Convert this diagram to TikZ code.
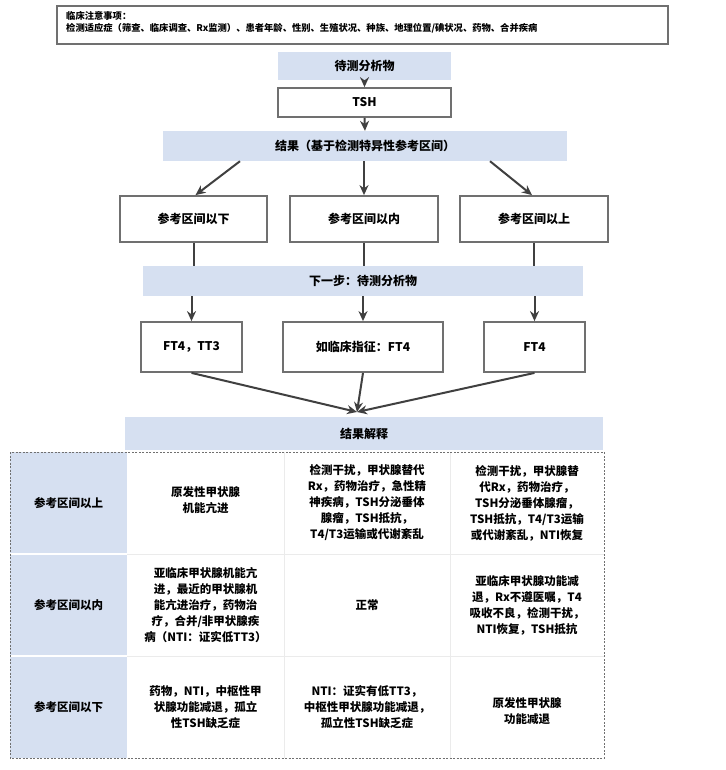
\documentclass[tikz,border=0pt]{standalone}
\usepackage{fontspec}
\setmainfont{Noto Sans CJK SC}
\usetikzlibrary{arrows.meta}
\definecolor{lb}{HTML}{D6E0F1}
\definecolor{bd}{HTML}{707070}
\definecolor{ar}{HTML}{404040}
\begin{document}
\begin{tikzpicture}[x=1pt,y=-1pt,
 bluebox/.style={fill=lb,draw=none,inner sep=0pt,font=\fontsize{12}{14}\selectfont\bfseries},
 grbox/.style={draw=bd,line width=1.8pt,fill=white,inner sep=0pt,font=\fontsize{12}{14}\selectfont\bfseries},
 arr/.style={draw=ar,line width=2pt,-{Stealth[length=10pt,width=9pt]}},
 ln/.style={draw=ar,line width=2pt},
 cell/.style={align=center,font=\fontsize{11.5}{16}\selectfont\bfseries,inner sep=0pt}]
\useasboundingbox (0,0) rectangle (725,770);
\fill[white] (0,0) rectangle (725,770);
% top note
\node[draw=bd,line width=1.8pt,minimum width=611pt,minimum height=38pt,inner sep=0pt] (note) at (362.5,25) {};
\node[anchor=north west,align=left,font=\fontsize{9.3}{12}\selectfont\bfseries,inner sep=0pt] (notet) at (66,11) {临床注意事项：\\检测适应症（筛查、临床调查、Rx监测）、患者年龄、性别、生殖状况、种族、地理位置/碘状况、药物、合并疾病};
% flow
\node[bluebox,minimum width=173pt,minimum height=28pt] (ana) at (364.5,66) {待测分析物};
\node[grbox,minimum width=173pt,minimum height=29pt] (tsh) at (364.5,102.5) {TSH};
\node[bluebox,minimum width=404pt,minimum height=30pt] (res) at (365,146) {结果（基于检测特异性参考区间）};
\node[grbox,minimum width=147pt,minimum height=46pt] (b1) at (193.5,219) {参考区间以下};
\node[grbox,minimum width=148pt,minimum height=46pt] (b2) at (364,219) {参考区间以内};
\node[grbox,minimum width=148pt,minimum height=46pt] (b3) at (534,219) {参考区间以上};
\node[bluebox,minimum width=440pt,minimum height=30pt] (nxt) at (363,281) {下一步：待测分析物};
\node[grbox,minimum width=101pt,minimum height=50pt] (f1) at (191.5,347) {FT4，TT3};
\node[grbox,minimum width=160pt,minimum height=50pt] (f2) at (363,347) {如临床指征：FT4};
\node[grbox,minimum width=101pt,minimum height=50pt] (f3) at (534.5,347) {FT4};
\coordinate (cv) at (357,412);
\node[bluebox,minimum width=478pt,minimum height=33pt] (int) at (364,433.5) {结果解释};
\draw[arr] (ana.south) -- (tsh.north);
\draw[arr] (tsh.south) -- (res.north);
\draw[arr] (res.south -| b2.north) -- (b2.north);
\draw[arr] ([xshift=-125pt]res.south) -- ([xshift=2pt]b1.north);
\draw[arr] ([xshift=125pt]res.south) -- ([xshift=-2pt]b3.north);
\draw[ln] (b1.south) -- (b1.south |- nxt.north);
\draw[ln] (b2.south) -- (b2.south |- nxt.north);
\draw[ln] (b3.south) -- (b3.south |- nxt.north);
\draw[arr] (nxt.south -| f1.north) -- (f1.north);
\draw[arr] (nxt.south -| f2.north) -- (f2.north);
\draw[arr] (nxt.south -| f3.north) -- (f3.north);
\draw[arr] (f1.south) -- (cv);
\draw[arr] (f2.south) -- (cv);
\draw[arr] (f3.south) -- (cv);
% table
\fill[lb] (10,452) rectangle (127,758);
\draw[black!8,line width=0.6pt] (284,452) -- (284,758) (450,452) -- (450,758) (127,554) -- (604,554) (127,656) -- (604,656);
\draw[white,line width=1.5pt] (10,554) -- (127,554) (10,656) -- (127,656);
\draw[bd,line width=0.7pt,dash pattern=on 2pt off 1.5pt] (10,452) rectangle (604,758);
\node[cell] (r1) at (68.5,503) {参考区间以上};
\node[cell] (r2) at (68.5,605) {参考区间以内};
\node[cell] (r3) at (68.5,707) {参考区间以下};
\node[cell] (c11) at (205.5,500) {原发性甲状腺\\机能亢进};
\node[cell] (c12) at (367,503) {检测干扰，甲状腺替代\\Rx，药物治疗，急性精\\神疾病，TSH分泌垂体\\腺瘤，TSH抵抗，\\T4/T3运输或代谢紊乱};
\node[cell] (c13) at (527,503) {检测干扰，甲状腺替\\代Rx，药物治疗，\\TSH分泌垂体腺瘤，\\TSH抵抗，T4/T3运输\\或代谢紊乱，NTI恢复};
\node[cell] (c21) at (205.5,605) {亚临床甲状腺机能亢\\进，最近的甲状腺机\\能亢进治疗，药物治\\疗，合并/非甲状腺疾\\病（NTI：证实低TT3）};
\node[cell] (c22) at (367,605) {正常};
\node[cell] (c23) at (527,605) {亚临床甲状腺功能减\\退，Rx不遵医嘱，T4\\吸收不良，检测干扰，\\NTI恢复，TSH抵抗};
\node[cell] (c31) at (205.5,707) {药物，NTI，中枢性甲\\状腺功能减退，孤立\\性TSH缺乏症};
\node[cell] (c32) at (367,707) {NTI：证实有低TT3，\\中枢性甲状腺功能减退，\\孤立性TSH缺乏症};
\node[cell] (c33) at (527,711) {原发性甲状腺\\功能减退};
\end{tikzpicture}
\end{document}
